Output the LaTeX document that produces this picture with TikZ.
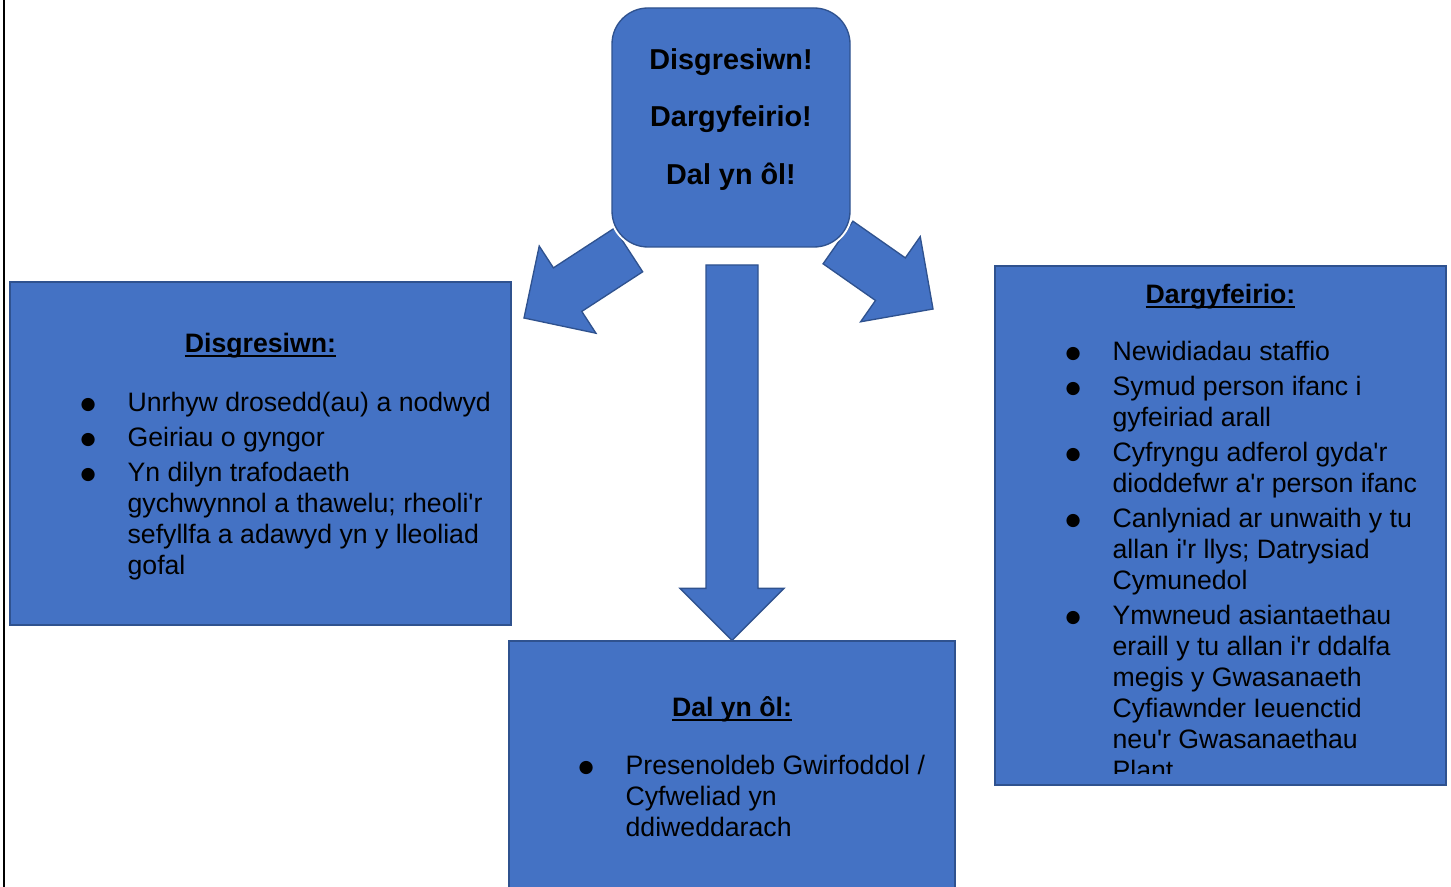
\documentclass[tikz,border=0pt]{standalone}
\usepackage{fontspec}
\setmainfont{Liberation Sans}[Ligatures=TeXOff]
\newfontfamily\symfont{DejaVu Sans}
\usetikzlibrary{positioning,calc}

\definecolor{boxfill}{HTML}{4472C4}
\definecolor{boxedge}{HTML}{2F528F}

% 下划线标题
\newcommand{\undl}[1]{\setbox0\hbox{#1}\rlap{\rule[-3.2pt]{\wd0}{1.5pt}}\box0}
% 大圆点
\newcommand{\blt}{\raisebox{1.5pt}{\symfont\fontsize{13}{13}\selectfont ●}}
% 粗箭头
\newcommand{\bigarrow}[2]{%
  \coordinate (hb) at ($(#2)!39pt!(#1)$);
  \draw [blockarrow] ($(#1)!19.5pt!90:(#2)$) -- ($(hb)!19.5pt!90:(#2)$)
    -- ($(hb)!39pt!90:(#2)$) -- (#2) -- ($(hb)!39pt!-90:(#2)$)
    -- ($(hb)!19.5pt!-90:(#2)$) -- ($(#1)!19.5pt!-90:(#2)$) -- cycle;}

\begin{document}
\begin{tikzpicture}[x=0.75pt, y=-0.75pt]

        % 样式定义
        \tikzstyle{panel} = [rectangle, draw=boxedge, fill=boxfill, line width=1pt, inner sep=0pt]
        \tikzstyle{titlebox} = [panel, rounded corners=27pt, minimum width=178.5pt, minimum height=179.25pt, align=center, font=\fontsize{21.6}{43.1}\selectfont\bfseries, text depth=16.75pt, preaction={draw=white, line width=4pt}]
        \tikzstyle{heading} = [anchor=base, inner sep=0pt, font=\fontsize{20}{23.25}\selectfont\bfseries]
        \tikzstyle{bullets} = [anchor=base west, inner sep=0pt, font=\fontsize{20}{23.25}\selectfont]
        \tikzstyle{blockarrow} = [draw=boxedge, fill=boxfill, line width=1pt, line join=miter]

        \useasboundingbox (0,0) rectangle (1451,887);
        \draw [line width=1.5pt] (4,0) -- (4,887);

        % 方框节点
        \node (dis) [panel, minimum width=375.75pt, minimum height=257.25pt] at (260.5,453.5) {};
        \node (dar) [panel, minimum width=338.25pt, minimum height=389.25pt] at (1220.5,525.5) {};
        \node (dyl) [panel, minimum width=334.5pt, minimum height=190.5pt] at (732,768) {};

        % 框内文字
        \node (dis head) [heading] at ($(dis.north)+(0,71)$) {\undl{Disgresiwn:}};
        \node (dis list) [bullets] at ($(dis.north west)+(71,130)$) {%
          \begin{tabular}[t]{@{}p{35.25pt}@{}p{285pt}@{}}
            \blt & Unrhyw drosedd(au) a nodwyd \\[3pt]
            \blt & Geiriau o gyngor \\[3pt]
            \blt & Yn dilyn trafodaeth\newline gychwynnol a thawelu; rheoli'r\newline sefyllfa a adawyd yn y lleoliad\newline gofal
          \end{tabular}};

        \node (dar head) [heading] at ($(dar.north)+(0,38)$) {\undl{Dargyfeirio:}};
        \begin{scope}
          \clip (dar.north west) rectangle ($(dar.south east)+(0,-12)$);
          \node (dar list) [bullets] at ($(dar.north west)+(71,95)$) {%
            \begin{tabular}[t]{@{}p{35.25pt}@{}p{247pt}@{}}
              \blt & Newidiadau staffio \\[3pt]
              \blt & Symud person ifanc i\newline gyfeiriad arall \\[3pt]
              \blt & Cyfryngu adferol gyda'r\newline dioddefwr a'r person ifanc \\[3pt]
              \blt & Canlyniad ar unwaith y tu\newline allan i'r llys; Datrysiad\newline Cymunedol \\[3pt]
              \blt & Ymwneud asiantaethau\newline eraill y tu allan i'r ddalfa\newline megis y Gwasanaeth\newline Cyfiawnder Ieuenctid\newline neu'r Gwasanaethau\newline Plant
            \end{tabular}};
        \end{scope}

        \node (dyl head) [heading] at ($(dyl.north)+(0,76)$) {\undl{Dal yn ôl:}};
        \node (dyl list) [bullets] at ($(dyl.north west)+(70,134)$) {%
          \begin{tabular}[t]{@{}p{35.25pt}@{}p{246pt}@{}}
            \blt & Presenoldeb Gwirfoddol /\newline Cyfweliad yn\newline ddiweddarach
          \end{tabular}};

        % 箭头连接
        \coordinate (left tail) at (628.5,250);
        \coordinate (left tip) at (524,318);
        \coordinate (mid tail) at (732,265);
        \coordinate (right tail) at (838,242.5);
        \coordinate (right tip) at (933,309);
        \bigarrow{left tail}{left tip}
        \bigarrow{mid tail}{dyl.north}
        \bigarrow{right tail}{right tip}

        \node (top) [titlebox] at (731,127.5) {Disgresiwn!\\Dargyfeirio!\\Dal yn ôl!};

\end{tikzpicture}
\end{document}
